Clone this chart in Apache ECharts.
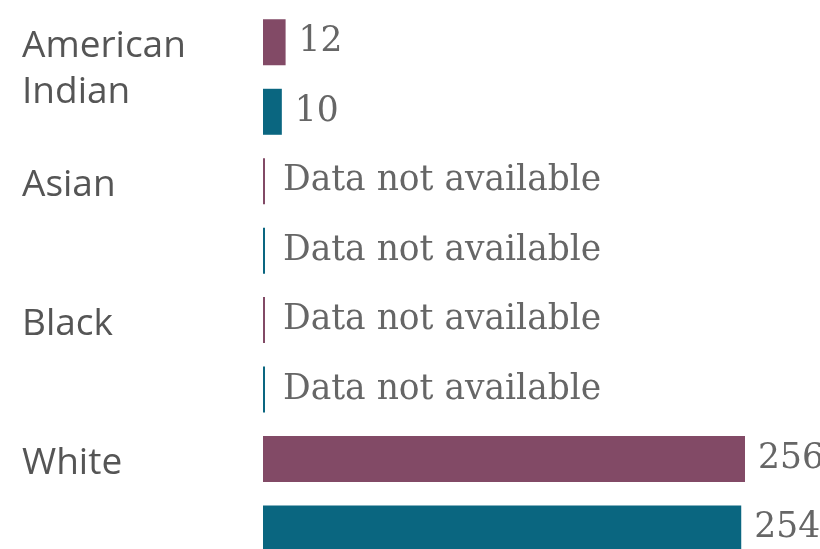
<!DOCTYPE html>
<html lang="en">
<head>
    <meta charset="UTF-8">
    <title>Bars by race</title>
    <script src="https://cdn.jsdelivr.net/npm/echarts@6/dist/echarts.min.js"></script>
    <style>
        html, body { margin: 0; padding: 0; background: #fff; }
    </style>
</head>
<body>
<div id="main" style="width: 820px;height:549px;"></div>
<script type="text/javascript">
    // categories, as wrapped in the picture
    var categories = ['American\nIndian', 'Asian', 'Black', 'White'];
    // two series per category, null = data not available
    var seriesA = [12, null, null, 256];
    var seriesB = [10, null, null, 254];
    var colorA = '#824a66';
    var colorB = '#0a6680';

    var myChart = echarts.init(document.getElementById('main'));

    // null values become zero-length bars with the "not available" text
    function toData(arr) {
        return arr.map(function (v) {
            return v === null ? {value: 0, missing: true, label: {distance: 18}} : {value: v};
        });
    }

    // put first line of the category label level with the first bar:
    // every label gets 5 short lines, real text on lines 1 and 4
    function catLabel(v) {
        var lines = v.split('\n');
        var out = [lines[0], '', '', lines[1] || '', ''];
        return out.join('\n');
    }

    var valueLabel = {
        show: true,
        position: 'right',
        distance: 13,
        fontFamily: 'DejaVu Serif',
        fontSize: 34.5,
        color: '#666',
        formatter: function (p) {
            return p.data.missing ? 'Data not available' : p.value;
        }
    };

    var option = {
        animation: false,
        grid: {
            left: 263,
            right: 75,
            top: 7.6,
            height: 555.6,
            outerBoundsMode: 'none'
        },
        xAxis: {
            type: 'value',
            min: 0,
            max: 'dataMax',
            show: false
        },
        yAxis: {
            type: 'category',
            data: categories,
            inverse: true,
            axisLine: {show: false},
            axisTick: {show: false},
            splitLine: {show: false},
            axisLabel: {
                align: 'left',
                verticalAlign: 'middle',
                margin: 241,
                fontFamily: 'Open Sans',
                fontSize: 37,
                lineHeight: 15.33,
                color: '#555',
                formatter: catLabel
            }
        },
        series: [
            {
                type: 'bar',
                data: toData(seriesA),
                barWidth: 46,
                barGap: '51%',
                barMinHeight: 2,
                itemStyle: {color: colorA},
                label: valueLabel
            },
            {
                type: 'bar',
                data: toData(seriesB),
                barWidth: 46,
                barGap: '51%',
                barMinHeight: 2,
                itemStyle: {color: colorB},
                label: valueLabel
            }
        ]
    };

    myChart.setOption(option);
</script>
</body>
</html>
